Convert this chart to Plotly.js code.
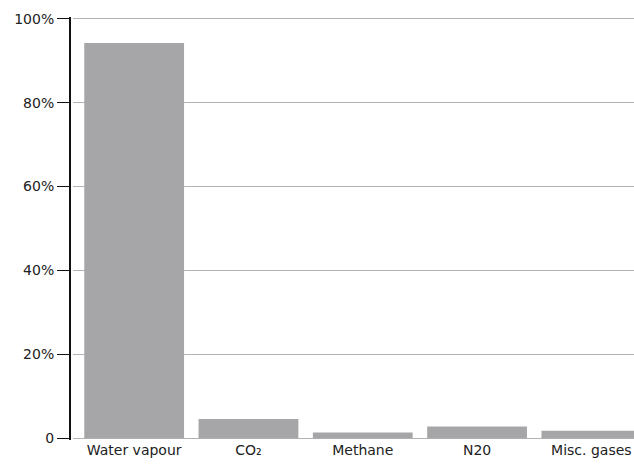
<!DOCTYPE html>
<html>
<head>
<meta charset="utf-8">
<script src="https://cdn.plot.ly/plotly-3.0.1.min.js"></script>
<style>
html, body { margin: 0; padding: 0; overflow: hidden; background: #fff; }
#chart { width: 634px; height: 466px; }
</style>
</head>
<body>
<div id="chart"></div>
<script>
const categories = ["Water vapour", "CO\u2082", "Methane", "N20", "Misc. gases"];
const shares = [94.2, 4.6, 1.4, 2.8, 1.8];
const yTickVals = [0, 20, 40, 60, 80, 100];
const yTickText = ["0", "20%", "40%", "60%", "80%", "100%"];

const W = 634, H = 466;
const L = 69;
const plotW = W - L;
const gridStart = 4 / plotW;
const gridColor = "#b3b3b3";

const trace = {
  type: "bar",
  x: categories,
  y: shares,
  marker: { color: "#a6a6a9", line: { width: 0 } },
  hoverinfo: "skip"
};

const layout = {
  width: W,
  height: H,
  margin: { l: L, r: 0, t: 17, b: 26, pad: 0 },
  paper_bgcolor: "#ffffff",
  plot_bgcolor: "#ffffff",
  showlegend: false,
  bargap: 0.127,
  font: { family: "DejaVu Sans, sans-serif", size: 14, color: "#222222" },
  xaxis: {
    domain: [gridStart, 1],
    type: "category",
    range: [-0.535, 4.373],
    showline: false,
    showgrid: false,
    zeroline: false,
    ticks: "",
    tickfont: { size: 14, color: "#222222" },
    fixedrange: true
  },
  yaxis: {
    anchor: "free",
    position: 0,
    range: [-0.4, 100.4],
    tickvals: yTickVals,
    ticktext: yTickText,
    showline: true,
    linecolor: "#111111",
    linewidth: 1.5,
    ticks: "outside",
    ticklen: 12,
    tickwidth: 1.5,
    tickcolor: "#111111",
    showgrid: true,
    gridcolor: gridColor,
    gridwidth: 1.5,
    zeroline: false,
    tickfont: { size: 14, color: "#222222" },
    fixedrange: true
  }
};

Plotly.newPlot("chart", [trace], layout, { displayModeBar: false, staticPlot: true });
</script>
</body>
</html>
